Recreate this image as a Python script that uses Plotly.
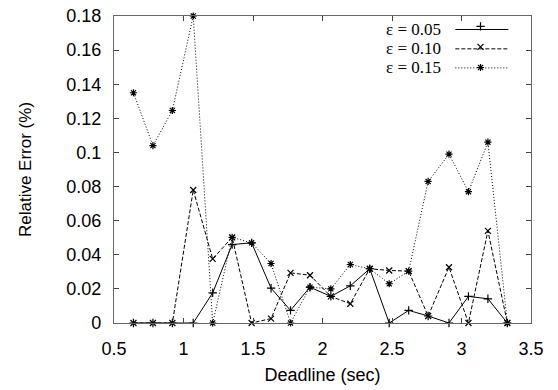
import plotly.graph_objects as go

deadline = [0.64, 0.78, 0.92, 1.07, 1.21, 1.35, 1.49, 1.63, 1.77, 1.91,
            2.06, 2.20, 2.34, 2.48, 2.62, 2.76, 2.91, 3.05, 3.19, 3.33]
err_005 = [0, 0, 0, 0, 0.0177, 0.046, 0.047, 0.0204, 0.0074, 0.021,
           0.0156, 0.0218, 0.0318, 0, 0.0074, 0.0041, 0, 0.0156, 0.0142, 0]
err_010 = [0, 0, 0, 0.078, 0.0376, 0.0502, 0, 0.0026, 0.0294, 0.028,
           0.0156, 0.0113, 0.0318, 0.0308, 0.0304, 0.0041, 0.0327, 0, 0.054, 0]
err_015 = [0.135, 0.104, 0.1246, 0.18, 0, 0.0502, 0.047, 0.0349, 0, 0.021,
           0.020, 0.0343, 0.0318, 0.023, 0.0304, 0.083, 0.099, 0.077, 0.106, 0]
labels = ["ε = 0.05", "ε = 0.10", "ε = 0.15"]

series = [err_005, err_010, err_015]
dashes = ["solid", "4px,2px", "1px,2px"]
symbols = ["cross-thin-open", "x-thin-open", "asterisk-open"]

fig = go.Figure()
for vals, d, s in zip(series, dashes, symbols):
    fig.add_trace(go.Scatter(
        x=deadline, y=vals, mode="lines+markers", showlegend=False,
        line=dict(color="black", width=1, dash=d),
        marker=dict(symbol=s, size=6, color="black", line=dict(color="black", width=1.2)),
        cliponaxis=False,
    ))

# legend keys: markers via legend entries, lines via shapes, labels via annotations
ys = [0.956, 0.893, 0.831]
for lab, yy, d, s in zip(labels, ys, dashes, symbols):
    fig.add_trace(go.Scatter(
        x=[None], y=[None], mode="markers", name="", showlegend=True,
        marker=dict(symbol=s, size=6, color="black", line=dict(color="black", width=1.2)),
    ))
    fig.add_shape(type="line", xref="paper", yref="paper", x0=0.8185, x1=0.9456,
                  y0=yy, y1=yy, line=dict(color="black", width=1, dash=d))
    fig.add_annotation(x=0.79, y=yy, xref="paper", yref="paper", text=lab,
                       showarrow=False, xanchor="right", yanchor="middle",
                       font=dict(family="Liberation Serif", size=17, color="black"))

tickfont = dict(family="Liberation Sans", size=18, color="black")
axis_common = dict(showgrid=False, zeroline=False, showline=True, linecolor="#666",
                   linewidth=1.2, mirror="ticks", ticks="inside", ticklen=5,
                   tickcolor="#444", tickfont=tickfont, automargin=False)

fig.update_layout(
    width=558, height=390,
    margin=dict(l=114, r=27, t=15, b=67),
    paper_bgcolor="white", plot_bgcolor="white",
    showlegend=True,
    legend=dict(x=0.831, y=1.0126, xanchor="left", yanchor="top", bgcolor="rgba(0,0,0,0)",
                font=dict(size=13.5), itemwidth=30, tracegroupgap=0),
    xaxis=dict(range=[0.5, 3.5], dtick=0.5, tick0=0.5,
               title=dict(text="Deadline (sec)", font=tickfont, standoff=10),
               ticklabelstandoff=9, **axis_common),
    yaxis=dict(range=[0, 0.18], dtick=0.02,
               title=dict(text="Relative Error (%)", font=dict(family="Liberation Sans", size=17, color="black"), standoff=30),
               ticklabelstandoff=8, **axis_common),
)

fig.write_html("out.html")
